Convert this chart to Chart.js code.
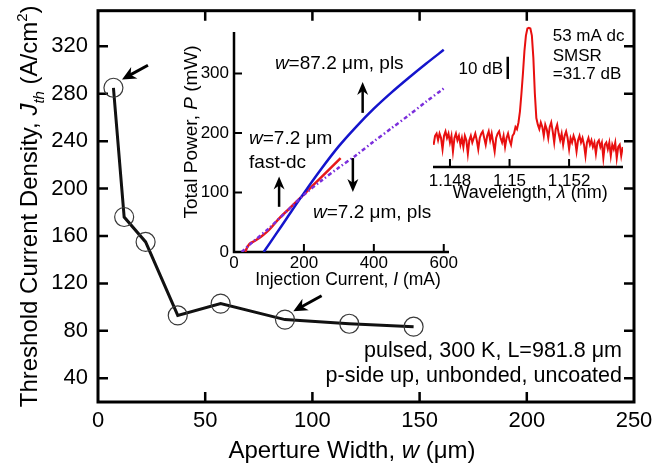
<!DOCTYPE html>
<html>
<head>
<meta charset="utf-8">
<script src="https://cdn.jsdelivr.net/npm/chart.js@4/dist/chart.umd.min.js"></script>
<style>
  html, body { margin: 0; padding: 0; background: #fff; }
  #wrap { position: relative; width: 667px; height: 469px; }
  canvas { position: absolute; }
  #mainChart { left: 0; top: 0; }
  #liChart { left: 150px; top: 15px; }
  #specChart { left: 420px; top: 10px; }
</style>
</head>
<body>
<div id="wrap">
  <canvas id="mainChart" width="667" height="469"></canvas>
  <canvas id="liChart" width="310" height="285"></canvas>
  <canvas id="specChart" width="220" height="195"></canvas>
</div>
<script>
// threshold current density vs aperture width
const widths = [7.2, 12.2, 22.2, 37.2, 57.2, 87.2, 117.2, 147.2];
const jth = [285, 176, 155, 93, 103, 89.5, 86, 83.5];
const widthTicks = [0, 50, 100, 150, 200, 250];
const jthTicks = [40, 80, 120, 160, 200, 240, 280, 320];
// arrows [wFrom, jFrom, wTo, jTo]
const jthArrows = [[23.3, 304, 11.2, 292], [104.3, 109.6, 91.1, 96.5]];

// light-current curves: current (mA) / total power (mW)
const wideCurrent = [85, 120, 150, 200, 250, 300, 350, 400, 450, 500, 550, 600];
const widePower = [0, 30, 56, 99, 140, 178, 211, 241, 268, 293, 317, 340];
const narrowCurrent = [22, 50, 100, 150, 200, 250, 300, 350, 400, 450, 500, 550, 600];
const narrowPower = [0, 15, 40, 68, 96, 120, 142, 163, 186, 208, 230, 253, 275];
const dcCurrent = [32, 38, 45, 60, 80, 100, 130, 160, 200, 250, 305];
const dcPower = [0, 8, 14, 19, 27, 37, 57, 74, 97, 126, 158];
const currentTicks = [0, 200, 400, 600];
const powerTicks = [0, 100, 200, 300];
// vertical arrows [current, pFrom, pTo]
const liArrows = [[368, 234, 286], [129, 76, 127], [340, 158, 101]];

// lasing spectrum at 53 mA dc: [wavelength, relative level dB]
const spectrum = [
  [1.14745, -56], [1.14750, -52], [1.14755, -51], [1.14760, -54], [1.14765, -51],
  [1.14770, -53], [1.14775, -58], [1.14780, -52], [1.14785, -50], [1.14790, -53],
  [1.14795, -51], [1.14800, -55], [1.14805, -52], [1.14810, -59], [1.14815, -53],
  [1.14820, -51], [1.14825, -54], [1.14830, -52], [1.14835, -56], [1.14840, -53],
  [1.14845, -57], [1.14850, -52], [1.14855, -54], [1.14860, -60], [1.14865, -54],
  [1.14870, -52], [1.14875, -55], [1.14880, -53], [1.14885, -51], [1.14890, -54],
  [1.14895, -58], [1.14900, -53], [1.14905, -51], [1.14910, -50], [1.14915, -53],
  [1.14920, -56], [1.14925, -52], [1.14930, -50], [1.14935, -54], [1.14940, -51],
  [1.14945, -55], [1.14950, -59], [1.14955, -53], [1.14960, -51], [1.14965, -50],
  [1.14970, -53], [1.14975, -55], [1.14980, -52], [1.14985, -57], [1.14990, -53],
  [1.14995, -51], [1.15000, -54], [1.15005, -56], [1.15010, -52], [1.15015, -51],
  [1.15020, -48], [1.15025, -49], [1.15030, -46], [1.15035, -41], [1.15040, -33],
  [1.15045, -24], [1.15050, -14], [1.15055, -7], [1.15060, -3.8], [1.15065, -3.5],
  [1.15070, -3.8], [1.15075, -7], [1.15080, -17], [1.15085, -33], [1.15090, -44],
  [1.15095, -47], [1.15100, -49], [1.15105, -46], [1.15110, -48], [1.15115, -52],
  [1.15120, -47], [1.15125, -49], [1.15130, -53], [1.15135, -48], [1.15140, -46],
  [1.15145, -50], [1.15150, -55], [1.15155, -49], [1.15160, -47], [1.15165, -51],
  [1.15170, -54], [1.15175, -51], [1.15180, -56], [1.15185, -52], [1.15190, -50],
  [1.15195, -53], [1.15200, -58], [1.15205, -53], [1.15210, -55], [1.15215, -52],
  [1.15220, -54], [1.15225, -59], [1.15230, -54], [1.15235, -52], [1.15240, -55],
  [1.15245, -53], [1.15250, -56], [1.15255, -61], [1.15260, -55], [1.15265, -53],
  [1.15270, -56], [1.15275, -54], [1.15280, -57], [1.15285, -55], [1.15290, -60],
  [1.15295, -55], [1.15300, -54], [1.15305, -57], [1.15310, -55], [1.15315, -62],
  [1.15320, -56], [1.15325, -55], [1.15330, -58], [1.15335, -55], [1.15340, -61],
  [1.15345, -56], [1.15350, -58], [1.15355, -55], [1.15360, -62], [1.15365, -57],
  [1.15370, -56], [1.15375, -61], [1.15380, -57]
];
const wavelengthTicks = [1.148, 1.150, 1.152];

const FONT = '"Liberation Sans", Arial, Helvetica, sans-serif';
Chart.defaults.font.family = FONT;
Chart.defaults.color = '#000';

function fixedTicks(values) {
  return function (scale) { scale.ticks = values.map(v => ({ value: v })); };
}

// pin a scale's thickness and drop the label overhang padding
function fitX(height) {
  return function (s) { s.height = height; s.paddingLeft = 0; s.paddingRight = 0; };
}
function fitY(width) {
  return function (s) { s.width = width; s.paddingTop = 0; s.paddingBottom = 0; };
}

function toPoints(xs, ys) {
  return xs.map((v, k) => ({ x: v, y: ys[k] }));
}

// text made of runs: {t, i (italic), sub, sup}
function runFont(p, size) {
  const s = (p.sub || p.sup) ? Math.round(size * 0.62) : size;
  return (p.i ? 'italic ' : '') + s + 'px ' + FONT;
}
function drawRich(ctx, parts, x, y, size, align, angle) {
  parts = parts.map(p => typeof p === 'string' ? { t: p } : p);
  ctx.save();
  ctx.translate(x, y);
  if (angle) ctx.rotate(angle);
  ctx.textBaseline = 'alphabetic';
  ctx.textAlign = 'left';
  ctx.fillStyle = '#000';
  let total = 0;
  const ws = parts.map(p => {
    ctx.font = runFont(p, size);
    const w = ctx.measureText(p.t).width;
    total += w;
    return w;
  });
  let cx = align === 'center' ? -total / 2 : (align === 'right' ? -total : 0);
  parts.forEach((p, k) => {
    ctx.font = runFont(p, size);
    const dy = p.sub ? size * 0.28 : (p.sup ? -size * 0.42 : 0);
    ctx.fillText(p.t, cx, dy);
    cx += ws[k];
  });
  ctx.restore();
}

function drawArrow(ctx, x0, y0, x1, y1, lw, head, half) {
  const a = Math.atan2(y1 - y0, x1 - x0);
  const c = Math.cos(a), s = Math.sin(a);
  const bx = x1 - head * c, by = y1 - head * s;
  ctx.lineWidth = lw;
  ctx.beginPath();
  ctx.moveTo(x0, y0);
  ctx.lineTo(x1 - head * 0.6 * c, y1 - head * 0.6 * s);
  ctx.stroke();
  ctx.beginPath();
  ctx.moveTo(x1, y1);
  ctx.lineTo(bx - half * s, by + half * c);
  ctx.lineTo(x1 - head * 0.7 * c, y1 - head * 0.7 * s);
  ctx.lineTo(bx + half * s, by - half * c);
  ctx.closePath();
  ctx.fill();
}

function plainTicks(size, padding) {
  return { color: '#000', font: { size: size }, padding: padding, maxRotation: 0, autoSkip: false, callback: v => String(v) };
}
const noGrid = { display: false, drawTicks: false };

// ---------- main plot ----------
const mainDecor = {
  id: 'mainDecor',
  beforeDatasetsDraw(chart) {
    const { ctx, chartArea: a, scales: { x, y } } = chart;
    ctx.save();
    ctx.strokeStyle = '#000';
    ctx.lineWidth = 3;
    ctx.strokeRect(a.left, a.top, a.right - a.left, a.bottom - a.top);
    ctx.lineWidth = 2.5;
    ctx.beginPath();
    widthTicks.forEach(v => {
      if (v <= x.min || v >= x.max) return;
      const px = x.getPixelForValue(v);
      ctx.moveTo(px, a.bottom); ctx.lineTo(px, a.bottom - 10);
      ctx.moveTo(px, a.top); ctx.lineTo(px, a.top + 10);
    });
    jthTicks.forEach(v => {
      const py = y.getPixelForValue(v);
      ctx.moveTo(a.left, py); ctx.lineTo(a.left + 10, py);
      ctx.moveTo(a.right, py); ctx.lineTo(a.right - 10, py);
    });
    ctx.stroke();
    ctx.restore();
  },
  afterDatasetsDraw(chart) {
    const { ctx, chartArea: a, scales: { x, y } } = chart;
    ctx.save();
    ctx.strokeStyle = '#000';
    ctx.fillStyle = '#000';
    jthArrows.forEach(r => drawArrow(ctx, x.getPixelForValue(r[0]), y.getPixelForValue(r[1]),
      x.getPixelForValue(r[2]), y.getPixelForValue(r[3]), 3, 14, 6.5));
    ctx.restore();

    drawRich(ctx, ['pulsed, 300 K, L=981.8 \u03bcm'], x.getPixelForValue(244.4), y.getPixelForValue(57.7), 21.5, 'right');
    drawRich(ctx, ['p-side up, unbonded, uncoated'], x.getPixelForValue(244.4), y.getPixelForValue(36.8), 21.5, 'right');

    drawRich(ctx, ['Threshold Current Density, ', { t: 'J', i: true }, { t: 'th', i: true, sub: true },
      ' (A/cm', { t: '2', sup: true }, ')'], a.left - 61, (a.top + a.bottom) / 2, 24, 'center', -Math.PI / 2);
    drawRich(ctx, ['Aperture Width, ', { t: 'w', i: true }, ' (\u03bcm)'], (a.left + a.right) / 2 - 14, 458, 24, 'center');
  }
};

new Chart(document.getElementById('mainChart'), {
  type: 'line',
  data: {
    datasets: [{
      data: toPoints(widths, jth),
      borderColor: '#111',
      borderWidth: 3,
      pointRadius: 9.5,
      pointBorderColor: '#3a3a3a',
      pointBorderWidth: 1.2,
      pointBackgroundColor: 'rgba(0,0,0,0)',
      tension: 0
    }]
  },
  options: {
    responsive: false,
    animation: false,
    events: [],
    layout: { padding: { top: 8, right: 33, left: 0, bottom: 0 } },
    plugins: { legend: { display: false }, tooltip: { enabled: false } },
    scales: {
      x: {
        type: 'linear', min: 0, max: 250,
        afterBuildTicks: fixedTicks(widthTicks),
        afterFit: fitX(67),
        grid: noGrid, border: { display: false },
        ticks: plainTicks(22, 6)
      },
      y: {
        min: 20, max: 350,
        afterBuildTicks: fixedTicks(jthTicks),
        afterFit: fitY(98),
        grid: noGrid, border: { display: false },
        ticks: plainTicks(22, 10)
      }
    }
  },
  plugins: [mainDecor]
});

// ---------- light-current inset ----------
const liDecor = {
  id: 'liDecor',
  beforeDatasetsDraw(chart) {
    const { ctx, chartArea: a, scales: { x, y } } = chart;
    ctx.save();
    ctx.strokeStyle = '#000';
    ctx.lineWidth = 2.5;
    ctx.beginPath();
    ctx.moveTo(a.left, a.top); ctx.lineTo(a.left, a.bottom); ctx.lineTo(a.right, a.bottom);
    ctx.stroke();
    ctx.lineWidth = 2;
    ctx.beginPath();
    currentTicks.forEach(v => {
      if (v <= 0) return;
      const px = x.getPixelForValue(v);
      ctx.moveTo(px, a.bottom); ctx.lineTo(px, a.bottom - 8);
    });
    powerTicks.forEach(v => {
      if (v <= 0) return;
      const py = y.getPixelForValue(v);
      ctx.moveTo(a.left, py); ctx.lineTo(a.left + 8, py);
    });
    ctx.stroke();
    ctx.restore();
  },
  afterDatasetsDraw(chart) {
    const { ctx, chartArea: a, scales: { x, y } } = chart;
    ctx.save();
    ctx.strokeStyle = '#000';
    ctx.fillStyle = '#000';
    liArrows.forEach(r => drawArrow(ctx, x.getPixelForValue(r[0]), y.getPixelForValue(r[1]),
      x.getPixelForValue(r[0]), y.getPixelForValue(r[2]), 2.5, 13, 5.5));
    ctx.restore();

    drawRich(ctx, [{ t: 'w', i: true }, '=87.2 \u03bcm, pls'], x.getPixelForValue(117), y.getPixelForValue(308), 19, 'left');
    drawRich(ctx, [{ t: 'w', i: true }, '=7.2 \u03bcm'], x.getPixelForValue(43), y.getPixelForValue(182), 19, 'left');
    drawRich(ctx, ['fast-dc'], x.getPixelForValue(43), y.getPixelForValue(142), 19, 'left');
    drawRich(ctx, [{ t: 'w', i: true }, '=7.2 \u03bcm, pls'], x.getPixelForValue(226), y.getPixelForValue(58), 19, 'left');

    drawRich(ctx, ['Total Power, ', { t: 'P', i: true }, ' (mW)'], 47, 117, 19, 'center', -Math.PI / 2);
    drawRich(ctx, ['Injection Current, ', { t: 'I', i: true }, ' (mA)'], 198, 270, 17.5, 'center');
  }
};

new Chart(document.getElementById('liChart'), {
  type: 'line',
  data: {
    datasets: [
      { data: toPoints(narrowCurrent, narrowPower), borderColor: '#7b2fdc', borderWidth: 2.5, borderDash: [4, 2.5, 1.5, 2.5], pointRadius: 0, tension: 0.3 },
      { data: toPoints(wideCurrent, widePower), borderColor: '#1414cc', borderWidth: 2.5, pointRadius: 0, tension: 0.3 },
      { data: toPoints(dcCurrent, dcPower), borderColor: '#e81818', borderWidth: 2.5, pointRadius: 0, tension: 0.3 }
    ]
  },
  options: {
    responsive: false,
    animation: false,
    events: [],
    layout: { padding: { top: 17, right: 11, left: 0, bottom: 0 } },
    plugins: { legend: { display: false }, tooltip: { enabled: false } },
    scales: {
      x: {
        type: 'linear', min: 0, max: 615,
        afterBuildTicks: fixedTicks(currentTicks),
        afterFit: fitX(48),
        grid: noGrid, border: { display: false },
        ticks: plainTicks(17, 1)
      },
      y: {
        min: 0, max: 370,
        afterBuildTicks: fixedTicks(powerTicks),
        afterFit: fitY(84),
        grid: noGrid, border: { display: false },
        ticks: plainTicks(17, 5)
      }
    }
  },
  plugins: [liDecor]
});

// ---------- spectrum inset ----------
const specDecor = {
  id: 'specDecor',
  beforeDatasetsDraw(chart) {
    const { ctx, chartArea: a, scales: { x } } = chart;
    ctx.save();
    ctx.strokeStyle = '#000';
    ctx.lineWidth = 2.5;
    ctx.beginPath();
    ctx.moveTo(a.left, a.bottom); ctx.lineTo(a.right, a.bottom);
    ctx.stroke();
    ctx.lineWidth = 2;
    ctx.beginPath();
    wavelengthTicks.forEach(v => {
      const px = x.getPixelForValue(v);
      ctx.moveTo(px, a.bottom); ctx.lineTo(px, a.bottom - 8);
    });
    ctx.stroke();
    ctx.restore();
  },
  afterDatasetsDraw(chart) {
    const { ctx, chartArea: a, scales: { x, y } } = chart;
    // 10 dB scale bar
    ctx.save();
    ctx.strokeStyle = '#000';
    ctx.lineWidth = 2.5;
    ctx.beginPath();
    ctx.moveTo(x.getPixelForValue(1.14994), y.getPixelForValue(-16.5));
    ctx.lineTo(x.getPixelForValue(1.14994), y.getPixelForValue(-26.5));
    ctx.stroke();
    ctx.restore();
    drawRich(ctx, ['10 dB'], x.getPixelForValue(1.14978), y.getPixelForValue(-24.2), 17, 'right');
    drawRich(ctx, ['53 mA dc'], x.getPixelForValue(1.15145), y.getPixelForValue(-9.4), 17, 'left');
    drawRich(ctx, ['SMSR'], x.getPixelForValue(1.15145), y.getPixelForValue(-18.4), 17, 'left');
    drawRich(ctx, ['=31.7 dB'], x.getPixelForValue(1.15145), y.getPixelForValue(-26.5), 17, 'left');
    drawRich(ctx, ['Wavelength, ', { t: '\u03bb', i: true }, ' (nm)'], 110, 188, 18, 'center');
  }
};

new Chart(document.getElementById('specChart'), {
  type: 'line',
  data: {
    datasets: [{
      data: spectrum.map(p => ({ x: p[0], y: p[1] })),
      borderColor: '#e80f0f',
      borderWidth: 2,
      pointRadius: 0,
      tension: 0
    }]
  },
  options: {
    responsive: false,
    animation: false,
    events: [],
    layout: { padding: { top: 10, right: 17, left: 13, bottom: 0 } },
    plugins: { legend: { display: false }, tooltip: { enabled: false } },
    scales: {
      x: {
        type: 'linear', min: 1.14743, max: 1.15381,
        afterBuildTicks: fixedTicks(wavelengthTicks),
        afterFit: fitX(38),
        grid: noGrid, border: { display: false },
        ticks: plainTicks(17, 4)
      },
      y: { display: false, min: -66, max: 0 }
    }
  },
  plugins: [specDecor]
});
</script>
</body>
</html>
